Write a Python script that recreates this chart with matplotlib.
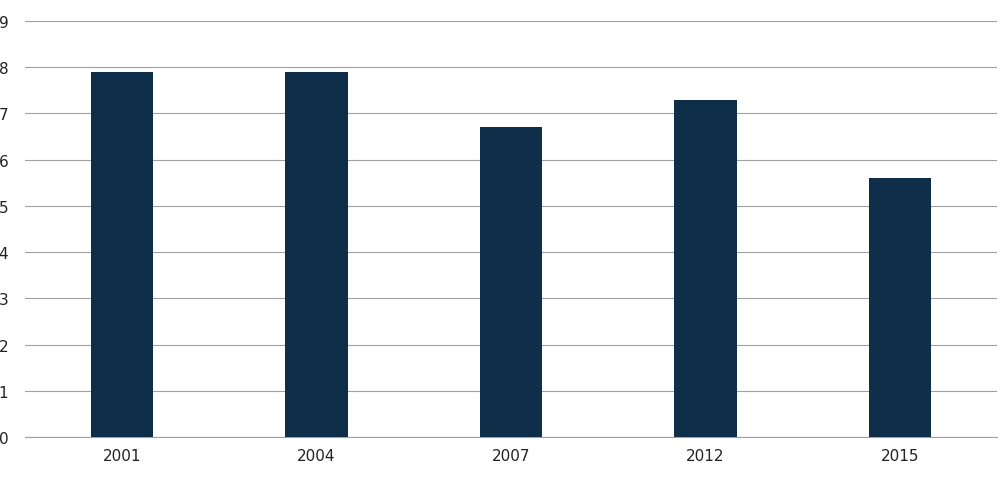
import matplotlib
matplotlib.use("Agg")
import matplotlib.pyplot as plt

years = ["2001", "2004", "2007", "2012", "2015"]
values = [7.9, 7.9, 6.7, 7.3, 5.6]

fig = plt.figure(figsize=(10, 4.85), dpi=100)
ax = fig.add_axes([0.025, 47/485, 0.972, 416/485])
x = range(len(years))
ax.bar(x, values, width=0.32, color="#0f2e4a", zorder=3)
ax.set_xlim(-0.5, len(years) - 0.5)
ax.set_ylim(0, 9)
ax.set_yticks(range(10))
ax.set_xticks(list(x))
ax.set_xticklabels(years)
ax.grid(axis="y", color="#a0a0a0", linewidth=0.8, zorder=0)
for s in ["top", "right", "left"]:
    ax.spines[s].set_visible(False)
ax.spines["bottom"].set_color("#a0a0a0")
ax.tick_params(axis="both", length=0, labelsize=11, colors="#222222")
ax.tick_params(axis="y", pad=12)
ax.tick_params(axis="x", pad=8)
fig.savefig("out.png", dpi=100)
